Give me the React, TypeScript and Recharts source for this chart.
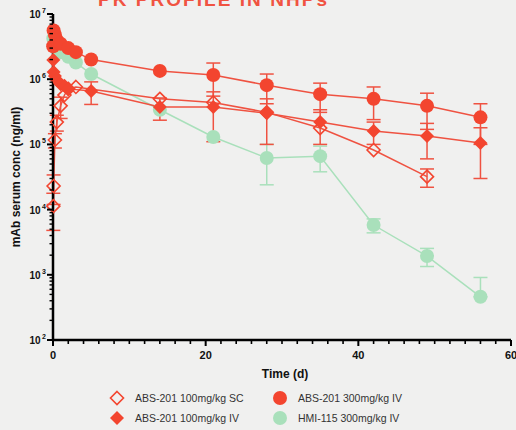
import React from 'react';
import { LineChart, Line, XAxis, YAxis, ErrorBar } from 'recharts';

// sampling times (d), mean serum conc (ng/ml) and SD
const scTimes = [0.04, 0.08, 0.25, 0.5, 1, 1.5, 2, 3, 14, 21, 28, 35, 42, 49];
const scValues = [1.13e4, 2.3e4, 1.17e5, 2.2e5, 3.9e5, 5.7e5, 7.1e5, 7.6e5, 5.0e5, 4.4e5, 3.1e5, 1.78e5, 8.2e4, 3.2e4];
const scSd = [6.5e3, 1.1e4, 2.9e4, 6e4, 1.4e5, 0, 0, 0, 0, 0, 0, 0, 0, 1e4];

const iv100Times = [0.04, 0.08, 0.25, 0.5, 1, 1.5, 2, 5, 14, 21, 28, 35, 42, 49, 56];
const iv100Values = [1.97e6, 1.29e6, 1.12e6, 9.7e5, 8.4e5, 7.9e5, 7.1e5, 6.6e5, 3.75e5, 3.75e5, 3.0e5, 2.2e5, 1.6e5, 1.35e5, 1.05e5];
const iv100Sd = [0, 0, 0, 0, 0, 0, 0, 2.5e5, 1.4e5, 2.65e5, 2.0e5, 1.2e5, 6e4, 7.5e4, 7.5e4];

const iv300Times = [0.02, 0.08, 0.25, 0.5, 1, 2, 3, 5, 14, 21, 28, 35, 42, 49, 56];
const iv300Values = [3.2e6, 5.6e6, 4.8e6, 4.0e6, 3.5e6, 3.0e6, 2.6e6, 2.0e6, 1.34e6, 1.16e6, 8.1e5, 5.9e5, 5.0e5, 3.9e5, 2.6e5];
const iv300Sd = [0, 0, 0, 0, 0, 0, 0, 0, 0, 6.1e5, 3.9e5, 2.8e5, 2.6e5, 2.2e5, 1.6e5];

const hmiTimes = [0.04, 0.5, 1, 2, 3, 5, 14, 21, 28, 35, 42, 49, 56];
const hmiValues = [4.2e6, 3.0e6, 2.6e6, 2.2e6, 1.8e6, 1.2e6, 3.4e5, 1.3e5, 6.2e4, 6.6e4, 5.8e3, 1.94e3, 4.6e2];
const hmiSd = [0, 0, 0, 0, 0, 0, 0, 0, 3.8e4, 2.8e4, 1.4e3, 6e2, 4.5e2];

const seriesNames = [
  'ABS-201 100mg/kg SC',
  'ABS-201 300mg/kg IV',
  'ABS-201 100mg/kg IV',
  'HMI-115 300mg/kg IV',
];

const xMajorTicks = [0, 20, 40, 60];
const yMajorTicks = [1e2, 1e3, 1e4, 1e5, 1e6, 1e7];

const RED = '#f3452f';
const RED_LINE = '#ef5241';
const GREEN = '#a9e0bb';
const BG = '#f0f0ef';
const FONT = '"Liberation Sans", Arial, Helvetica, sans-serif';

// lower bars that would fall under the axis floor are left off (as in the original)
const toRows = (times: number[], values: number[], sd: number[]) =>
  times.map((t, i) => ({
    t,
    v: values[i],
    err: sd[i] ? [values[i] - sd[i] > 100 ? sd[i] : 0, sd[i]] : 0,
  }));

const scRows = toRows(scTimes, scValues, scSd);
const iv100Rows = toRows(iv100Times, iv100Values, iv100Sd);
const iv300Rows = toRows(iv300Times, iv300Values, iv300Sd);
const hmiRows = toRows(hmiTimes, hmiValues, hmiSd);

const xTicks: number[] = [];
for (let t = 0; t <= 60; t += 2) xTicks.push(t);
const yTicks: number[] = [];
for (let e = 2; e < 7; e++) for (let m = 1; m < 10; m++) yTicks.push(m * Math.pow(10, e));
yTicks.push(1e7);

const OpenDiamond = (props: any) => {
  const { cx, cy, key } = props;
  if (cx == null || cy == null) return null;
  const r = 6.5;
  return (
    <path key={key} d={`M${cx},${cy - r}L${cx + r},${cy}L${cx},${cy + r}L${cx - r},${cy}Z`}
      fill="none" stroke={RED} strokeWidth={1.6} />
  );
};

const FilledDiamond = (props: any) => {
  const { cx, cy, key } = props;
  if (cx == null || cy == null) return null;
  const r = 7;
  return <path key={key} d={`M${cx},${cy - r}L${cx + r},${cy}L${cx},${cy + r}L${cx - r},${cy}Z`} fill={RED} />;
};

const Dot = (color: string) => (props: any) => {
  const { cx, cy, key } = props;
  if (cx == null || cy == null) return null;
  return <circle key={key} cx={cx} cy={cy} r={7} fill={color} />;
};

const XTick = ({ x, y, payload }: any) => {
  const major = xMajorTicks.includes(payload.value);
  return (
    <g>
      <line x1={x} x2={x} y1={y} y2={y + (major ? 6 : 4)} stroke="#000" strokeWidth={major ? 2 : 1.6} />
      {major && (
        <text x={x} y={y + 19} textAnchor="middle" fontSize={11} fontWeight="bold" fontFamily={FONT} fill="#111">
          {payload.value}
        </text>
      )}
    </g>
  );
};

const YTick = ({ x, y, payload }: any) => {
  const v = payload.value;
  const major = yMajorTicks.includes(v);
  const exp = Math.round(Math.log10(v));
  return (
    <g>
      <line x1={x} x2={x - (major ? 6 : 3.5)} y1={y} y2={y} stroke="#000" strokeWidth={major ? 2 : 1.4} />
      {major && (
        <text x={x - 7} y={y + 4} textAnchor="end" fontSize={10} fontWeight="bold" fontFamily={FONT} fill="#111">
          10<tspan dx={1.5} dy={-5} fontSize={7}>{exp}</tspan>
        </text>
      )}
    </g>
  );
};

const legendIcon = (i: number) => {
  if (i === 0) return <path d="M8,1.5L14.5,8L8,14.5L1.5,8Z" fill="none" stroke={RED} strokeWidth={1.6} />;
  if (i === 2) return <path d="M8,1L15,8L8,15L1,8Z" fill={RED} />;
  return <circle cx={8} cy={8} r={7} fill={i === 1 ? RED : GREEN} />;
};

export default function App() {
  const legendPos = [
    { left: 109, top: 390 },
    { left: 272, top: 390 },
    { left: 109, top: 410 },
    { left: 272, top: 410 },
  ];
  return (
    <div style={{ position: 'absolute', left: 0, top: 0, width: 516, height: 430, background: BG, overflow: 'hidden', fontFamily: FONT }}>
      <svg width={516} height={430} style={{ position: 'absolute', left: 0, top: 0 }}>
        <text x={98} y={6} fontSize={19} fontWeight="bold" fill="#f05341" fontFamily={FONT}
          textLength={229} lengthAdjust="spacing">PK PROFILE IN NHPs</text>
        <text x={285} y={378} textAnchor="middle" fontSize={12} fontWeight="bold" fontFamily={FONT} fill="#111">Time (d)</text>
        <text transform="translate(20,177) rotate(-90)" textAnchor="middle" fontSize={12} fontWeight="bold" fontFamily={FONT} fill="#111">
          mAb serum conc (ng/ml)
        </text>
      </svg>
      <LineChart width={516} height={430} margin={{ top: 14, right: 5, bottom: 52, left: 8 }} style={{ position: 'absolute', left: 0, top: 0 }}>
        <XAxis type="number" dataKey="t" domain={[0, 60]} ticks={xTicks} interval={0} height={38}
          tickSize={0} tickMargin={0} tickLine={false} tick={<XTick />}
          axisLine={{ stroke: '#000', strokeWidth: 2.5 }} allowDuplicatedCategory={false} />
        <YAxis type="number" scale="log" domain={[100, 1e7]} ticks={yTicks} interval={0} width={45}
          tickSize={0} tickMargin={0} tickLine={false} tick={<YTick />}
          axisLine={{ stroke: '#000', strokeWidth: 2.5 }} />
        <Line data={hmiRows} dataKey="v" name={seriesNames[3]} stroke={GREEN} strokeWidth={1.5}
          dot={Dot(GREEN)} activeDot={false} isAnimationActive={false}>
          <ErrorBar dataKey="err" direction="y" width={7} stroke={GREEN} strokeWidth={1.5} />
        </Line>
        <Line data={scRows} dataKey="v" name={seriesNames[0]} stroke={RED_LINE} strokeWidth={1.5}
          dot={OpenDiamond} activeDot={false} isAnimationActive={false}>
          <ErrorBar dataKey="err" direction="y" width={7} stroke={RED_LINE} strokeWidth={1.5} />
        </Line>
        <Line data={iv100Rows} dataKey="v" name={seriesNames[2]} stroke={RED_LINE} strokeWidth={1.5}
          dot={FilledDiamond} activeDot={false} isAnimationActive={false}>
          <ErrorBar dataKey="err" direction="y" width={7} stroke={RED_LINE} strokeWidth={1.5} />
        </Line>
        <Line data={iv300Rows} dataKey="v" name={seriesNames[1]} stroke={RED_LINE} strokeWidth={1.5}
          dot={Dot(RED)} activeDot={false} isAnimationActive={false}>
          <ErrorBar dataKey="err" direction="y" width={7} stroke={RED_LINE} strokeWidth={1.5} />
        </Line>
      </LineChart>
      {seriesNames.map((name, i) => (
        <div key={name} style={{ position: 'absolute', left: legendPos[i].left, top: legendPos[i].top, display: 'flex', alignItems: 'center', height: 16 }}>
          <svg width={16} height={16}>{legendIcon(i)}</svg>
          <span style={{ marginLeft: 10, fontSize: 10.5, color: '#333' }}>{name}</span>
        </div>
      ))}
    </div>
  );
}
